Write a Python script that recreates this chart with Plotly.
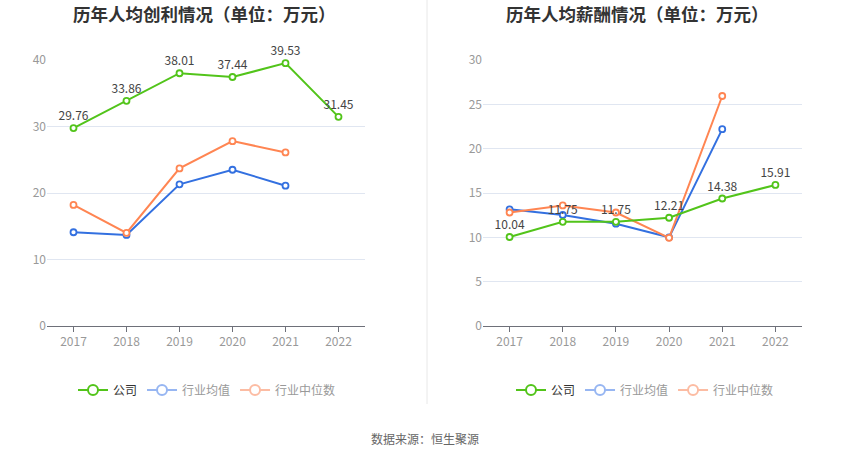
import plotly.graph_objects as go

years = ["2017", "2018", "2019", "2020", "2021", "2022"]

# Left: 历年人均创利情况
profit_company = [29.76, 33.86, 38.01, 37.44, 39.53, 31.45]
profit_avg = [14.1, 13.7, 21.3, 23.5, 21.1, None]
profit_median = [18.2, 14.0, 23.7, 27.8, 26.1, None]

# Right: 历年人均薪酬情况
salary_company = [10.04, 11.75, 11.75, 12.21, 14.38, 15.91]
salary_avg = [13.16, 12.52, 11.54, 10.0, 22.2, None]
salary_median = [12.8, 13.6, 12.8, 9.95, 25.94, None]

titles = ["历年人均创利情况（单位：万元）", "历年人均薪酬情况（单位：万元）"]
series_names = ["公司", "行业均值", "行业中位数"]

GREEN = "#52C41A"
BLUE = "#3370E0"
ORANGE = "#FF8552"
GREEN_L = "#52C41A"
BLUE_L = "#97B6F2"
ORANGE_L = "#FCBCA3"
FONT = "Noto Sans CJK SC"

fig = go.Figure()

def add_set(xa, ya, comp, avg, med, legend):
    for vals, col in [(avg, BLUE), (med, ORANGE)]:
        fig.add_trace(go.Scatter(
            x=years, y=vals, xaxis=xa, yaxis=ya, mode="lines+markers",
            line=dict(color=col, width=2),
            marker=dict(size=6, color="white", line=dict(color=col, width=1.8)),
            showlegend=False, hoverinfo="skip", connectgaps=False, cliponaxis=False))
    fig.add_trace(go.Scatter(
        x=years, y=comp, xaxis=xa, yaxis=ya, mode="lines+markers+text",
        line=dict(color=GREEN, width=2),
        marker=dict(size=6, color="white", line=dict(color=GREEN, width=1.8)),
        text=[f"{v:.2f}" for v in comp], textposition="top center",
        textfont=dict(color="#444", size=12, family=FONT),
        showlegend=False, hoverinfo="skip", cliponaxis=False))
    for name, col, tc in [(series_names[0], GREEN_L, "#333"),
                          (series_names[1], BLUE_L, "#999"),
                          (series_names[2], ORANGE_L, "#999")]:
        fig.add_trace(go.Scatter(
            x=[None], y=[None], xaxis=xa, yaxis=ya, mode="lines+markers",
            name=f"<span style='color:{tc}'>{name}</span>",
            line=dict(color=col, width=2),
            marker=dict(size=10, color="white", line=dict(color=col, width=2)),
            legend=legend, showlegend=True))

add_set("x", "y", profit_company, profit_avg, profit_median, "legend")
add_set("x2", "y2", salary_company, salary_avg, salary_median, "legend2")

ydom = [1 - 326 / 459, 1 - 60 / 459]
xdom1 = [47 / 850, 365 / 850]
xdom2 = [483 / 850, 802 / 850]

axis_common = dict(showgrid=False, showline=True, linecolor="#6E7079", linewidth=1,
                   ticks="outside", ticklen=5, tickcolor="#6E7079",
                   tickfont=dict(color="#999", size=12, family=FONT),
                   range=[-0.5, 5.5], type="category", fixedrange=True, automargin=False)
yaxis_common = dict(showgrid=True, gridcolor="#E0E6F1", gridwidth=1, zeroline=False,
                    showline=False, tickfont=dict(color="#999", size=12, family=FONT),
                    ticks="", fixedrange=True, automargin=False)

legend_common = dict(orientation="h", yanchor="middle", y=1 - 390 / 459, xanchor="center",
                     font=dict(size=12, family=FONT, color="#333"),
                     bgcolor="rgba(0,0,0,0)", itemwidth=30, traceorder="normal")

fig.update_layout(
    width=850, height=459, autosize=False,
    margin=dict(l=0, r=0, t=0, b=0, pad=0, autoexpand=False),
    paper_bgcolor="white", plot_bgcolor="white",
    font=dict(family=FONT),
    xaxis=dict(domain=xdom1, anchor="y", **axis_common),
    yaxis=dict(domain=ydom, anchor="x", range=[0, 40], dtick=10, **yaxis_common),
    xaxis2=dict(domain=xdom2, anchor="y2", **axis_common),
    yaxis2=dict(domain=ydom, anchor="x2", range=[0, 30], dtick=5, **yaxis_common),
    legend=dict(x=207 / 850, **legend_common),
    legend2=dict(x=645 / 850, **legend_common),
    showlegend=True,
)

for i, t in enumerate(titles):
    fig.add_annotation(text=f"<b>{t}</b>", x=(204 if i == 0 else 637) / 850, y=1 - 14 / 459,
                       xref="paper", yref="paper", showarrow=False, xanchor="center",
                       yanchor="middle", font=dict(size=17.5, color="#333", family=FONT))

fig.add_annotation(text="数据来源：恒生聚源", x=0.5, y=1 - 438 / 459, xref="paper", yref="paper",
                   showarrow=False, xanchor="center", yanchor="middle",
                   font=dict(size=12, color="#666", family=FONT))

fig.add_shape(type="line", xref="paper", yref="paper", x0=427 / 850, x1=427 / 850,
              y0=1 - 404 / 459, y1=1, line=dict(color="#E8E8E8", width=1))

fig.write_html("out.html", config={"displayModeBar": False},
               post_script="document.body.style.margin='0';document.body.style.overflow='hidden';")
